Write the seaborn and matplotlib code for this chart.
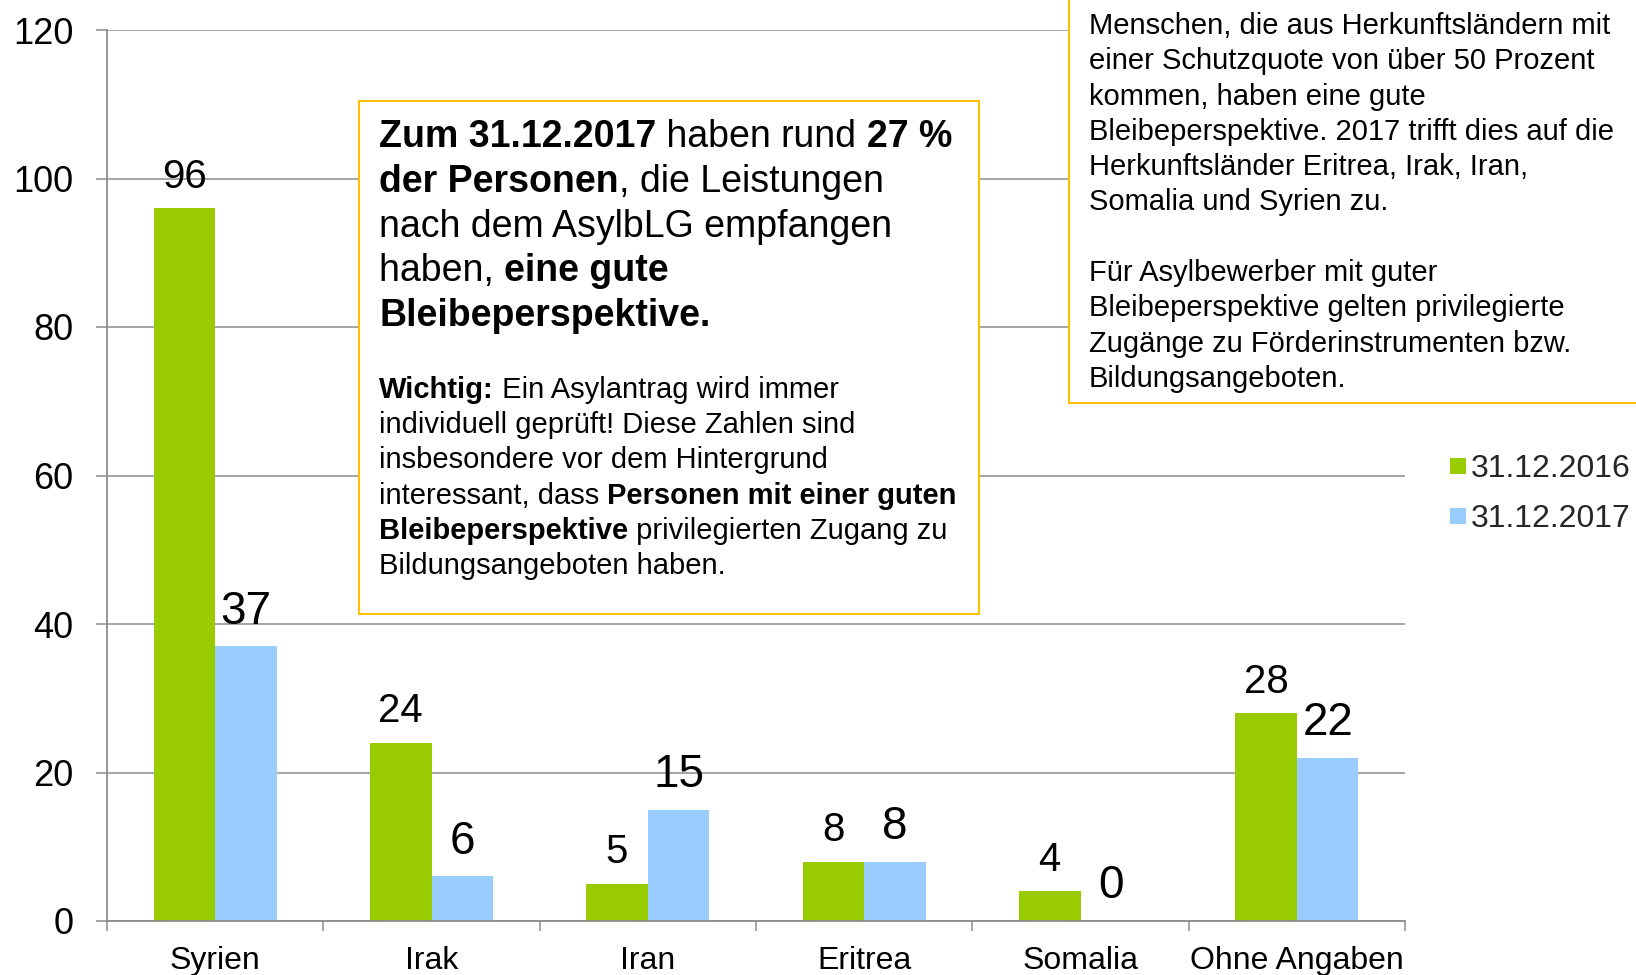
import numpy as np
import pandas as pd
import matplotlib
matplotlib.use("Agg")
import matplotlib.pyplot as plt
import seaborn as sns
from matplotlib.patches import Rectangle
from matplotlib.lines import Line2D

# ---- data ----
categories = ["Syrien", "Irak", "Iran", "Eritrea", "Somalia", "Ohne Angaben"]
series_names = ["31.12.2016", "31.12.2017"]
values_2016 = [96, 24, 5, 8, 4, 28]
values_2017 = [37, 6, 15, 8, 0, 22]
y_ticks = [0, 20, 40, 60, 80, 100, 120]
colors = ["#99CC00", "#99CCFF"]

df = pd.DataFrame({
    "Land": categories * 2,
    "Stichtag": [series_names[0]] * len(categories) + [series_names[1]] * len(categories),
    "Wert": values_2016 + values_2017,
})

sns.set_theme(style="white")
plt.rcParams["font.family"] = ["Liberation Sans", "DejaVu Sans"]

W, H = 1636, 975
GRAY = "#8C8C8C"
fig = plt.figure(figsize=(W / 100, H / 100), dpi=100)
fig.patch.set_facecolor("white")
ax = fig.add_axes([107 / W, 1 - 921 / H, (1405 - 107) / W, (921 - 30) / H])

sns.barplot(data=df, x="Land", y="Wert", hue="Stichtag", palette=colors,
            width=0.57, gap=0, linewidth=0, saturation=1, errorbar=None,
            legend=False, ax=ax)

ax.set_xlim(-0.5, len(categories) - 0.5)
ax.set_ylim(0, 120)
ax.set_xlabel("")
ax.set_ylabel("")
ax.set_yticks(y_ticks)
ax.set_yticklabels([str(v) for v in y_ticks], fontsize=26, color="black")
ax.set_xticks(np.arange(-0.5, len(categories), 1.0))
ax.set_xticklabels([])
ax.set_xticks(np.arange(len(categories)), minor=True)
ax.set_xticklabels(categories, minor=True, fontsize=23, color="black")
ax.tick_params(axis="x", which="major", length=7.5, width=1.1, color=GRAY,
               direction="out", bottom=True, labelbottom=False)
ax.tick_params(axis="x", which="minor", length=0, pad=18, bottom=True)
ax.tick_params(axis="y", length=8, width=1.1, color=GRAY, direction="out",
               left=True, pad=16)
ax.yaxis.grid(True, color=GRAY, linewidth=1.1)
ax.xaxis.grid(False)
ax.set_axisbelow(True)
for s in ["top", "right"]:
    ax.spines[s].set_visible(False)
for s in ["left", "bottom"]:
    ax.spines[s].set_color(GRAY)
    ax.spines[s].set_linewidth(1.3)

for cont, size, vals in zip(ax.containers, [29, 33], [values_2016, values_2017]):
    ax.bar_label(cont, labels=[str(v) for v in vals], padding=9, fontsize=size,
                 color="black")

# ---- legend ----
handles = [Line2D([], [], marker="s", linestyle="none", markersize=12,
                  markerfacecolor=c, markeredgewidth=0) for c in colors]
fig.legend(handles, series_names, loc="center left",
           bbox_to_anchor=(1449 / W, 1 - 494 / H), frameon=False, fontsize=23,
           handlelength=0.55, handletextpad=0.12, labelspacing=0.63,
           borderpad=0, borderaxespad=0)

# ---- text boxes ----
BOX_EDGE = "#FFC000"
fig.add_artist(Rectangle((359 / W, 1 - 614 / H), (979 - 359) / W, (614 - 101) / H,
                         transform=fig.transFigure, facecolor="white",
                         edgecolor=BOX_EDGE, linewidth=1.5, zorder=5))
fig.add_artist(Rectangle((1069 / W, 1 - 403 / H), (1720 - 1069) / W, (403 + 60) / H,
                         transform=fig.transFigure, facecolor="white",
                         edgecolor=BOX_EDGE, linewidth=1.5, zorder=5))

renderer = fig.canvas.get_renderer()


def seg_width(s, size, weight):
    t = fig.text(0, 0, s + "|", fontsize=size, fontweight=weight)
    w1 = t.get_window_extent(renderer).width
    t.set_text("|")
    w2 = t.get_window_extent(renderer).width
    t.remove()
    return w1 - w2


def rich_line(x_px, y_px, segs, size):
    x = x_px
    for s, bold in segs:
        w = "bold" if bold else "normal"
        fig.text(x / W, 1 - y_px / H, s, fontsize=size, fontweight=w,
                 ha="left", va="baseline", color="black", zorder=6)
        x += seg_width(s, size, w)


B, N = True, False
box1_big = [
    [("Zum 31.12.2017", B), (" haben rund ", N), ("27 %", B)],
    [("der Personen", B), (", die Leistungen", N)],
    [("nach dem AsylbLG empfangen", N)],
    [("haben, ", N), ("eine gute", B)],
    [("Bleibeperspektive.", B)],
]
box1_small = [
    [("Wichtig:", B), (" Ein Asylantrag wird immer", N)],
    [("individuell geprüft! Diese Zahlen sind", N)],
    [("insbesondere vor dem Hintergrund", N)],
    [("interessant, dass ", N), ("Personen mit einer guten", B)],
    [("Bleibeperspektive", B), (" privilegierten Zugang zu", N)],
    [("Bildungsangeboten haben.", N)],
]
box2_lines = [
    "Menschen, die aus Herkunftsländern mit",
    "einer Schutzquote von über 50 Prozent",
    "kommen, haben eine gute",
    "Bleibeperspektive. 2017 trifft dies auf die",
    "Herkunftsländer Eritrea, Irak, Iran,",
    "Somalia und Syrien zu.",
    "",
    "Für Asylbewerber mit guter",
    "Bleibeperspektive gelten privilegierte",
    "Zugänge zu Förderinstrumenten bzw.",
    "Bildungsangeboten.",
]

for i, segs in enumerate(box1_big):
    rich_line(379, 147 + 44.8 * i, segs, 27)
for i, segs in enumerate(box1_small):
    rich_line(379, 398 + 35.2 * i, segs, 21)
for i, line in enumerate(box2_lines):
    if line:
        rich_line(1089, 34 + 35.3 * i, [(line, N)], 21)

fig.savefig("out.png", dpi=100, facecolor="white")
